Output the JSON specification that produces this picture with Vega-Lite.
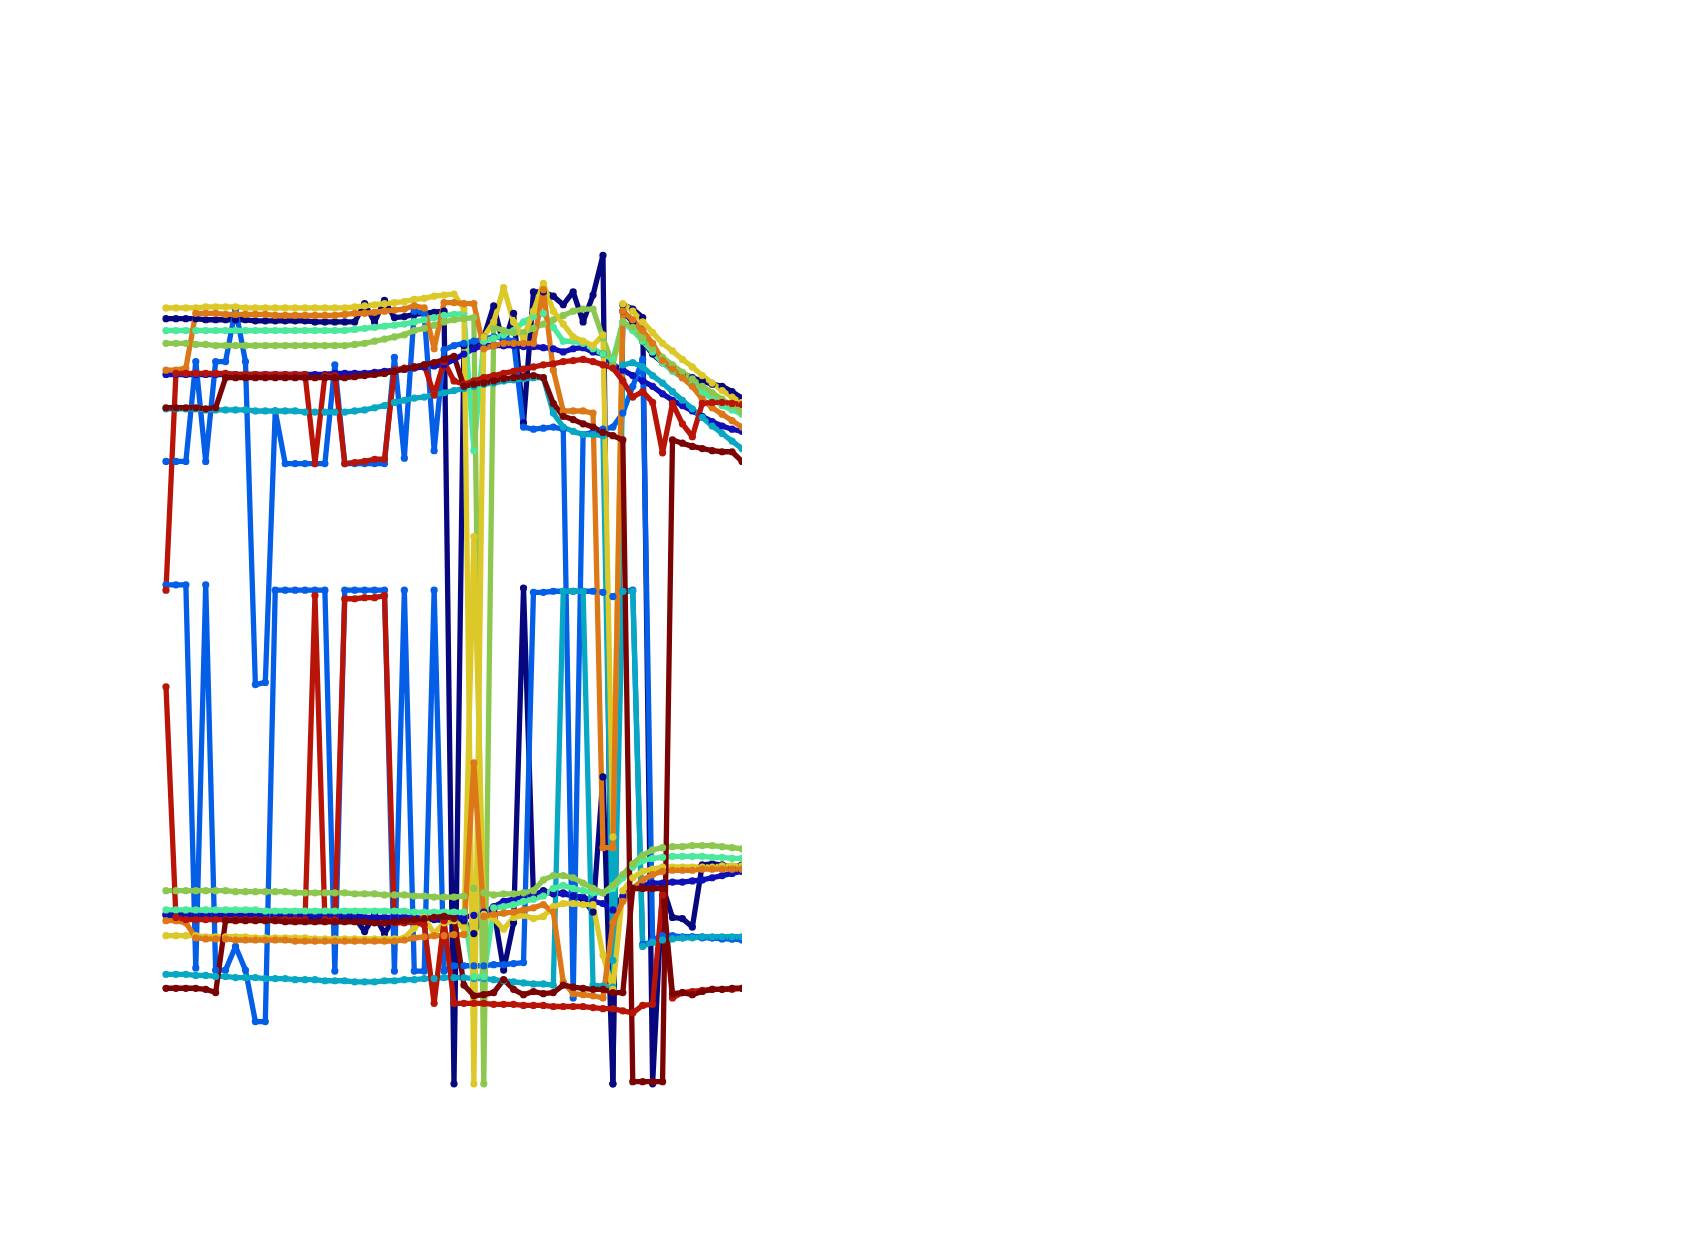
{
"$schema":"https://vega.github.io/schema/vega-lite/v6.json",
"width":576,"height":1234,"autosize":"none",
"padding":{"left":166,"top":0,"right":0,"bottom":0},
"background":"white",
"config":{"view":{"stroke":null}},
"data":{"values":[
{"s":"a1","x":0,"y":297},{"s":"a1","x":1,"y":297},{"s":"a1","x":2,"y":297},{"s":"a1","x":3,"y":297},{"s":"a1","x":4,"y":298},{"s":"a1","x":5,"y":298},{"s":"a1","x":6,"y":298},{"s":"a1","x":7,"y":298},{"s":"a1","x":8,"y":298},{"s":"a1","x":9,"y":299},
{"s":"a1","x":10,"y":299},{"s":"a1","x":11,"y":299},{"s":"a1","x":12,"y":299},{"s":"a1","x":13,"y":299},{"s":"a1","x":14,"y":299},{"s":"a1","x":15,"y":300},{"s":"a1","x":16,"y":300},{"s":"a1","x":17,"y":300},{"s":"a1","x":18,"y":300},{"s":"a1","x":19,"y":300},
{"s":"a1","x":20,"y":283},{"s":"a1","x":21,"y":300},{"s":"a1","x":22,"y":280},{"s":"a1","x":23,"y":296},{"s":"a1","x":24,"y":295},{"s":"a1","x":25,"y":293},{"s":"a1","x":26,"y":292},{"s":"a1","x":27,"y":291},{"s":"a1","x":28,"y":290},{"s":"a1","x":29,"y":1010},
{"s":"a1","x":30,"y":322},{"s":"a1","x":31,"y":322},{"s":"a1","x":32,"y":314},{"s":"a1","x":33,"y":285},{"s":"a1","x":34,"y":322},{"s":"a1","x":35,"y":292},{"s":"a1","x":36,"y":394},{"s":"a1","x":37,"y":272},{"s":"a1","x":38,"y":272},{"s":"a1","x":39,"y":276},
{"s":"a1","x":40,"y":284},{"s":"a1","x":41,"y":272},{"s":"a1","x":42,"y":300},{"s":"a1","x":43,"y":275},{"s":"a1","x":44,"y":238},{"s":"a1","x":45,"y":1010},{"s":"a1","x":46,"y":284},{"s":"a1","x":47,"y":288},{"s":"a1","x":48,"y":296},{"s":"a1","x":49,"y":1010},
{"s":"a1","x":50,"y":826},{"s":"a1","x":51,"y":855},{"s":"a1","x":52,"y":856},{"s":"a1","x":53,"y":864},{"s":"a1","x":54,"y":806},{"s":"a1","x":55,"y":805},{"s":"a1","x":56,"y":806},{"s":"a1","x":57,"y":808},{"s":"a1","x":58,"y":806},
{"s":"a2","x":0,"y":852},{"s":"a2","x":1,"y":852},{"s":"a2","x":2,"y":852},{"s":"a2","x":3,"y":853},{"s":"a2","x":4,"y":853},{"s":"a2","x":5,"y":853},{"s":"a2","x":6,"y":853},{"s":"a2","x":7,"y":853},{"s":"a2","x":8,"y":853},{"s":"a2","x":9,"y":853},
{"s":"a2","x":10,"y":854},{"s":"a2","x":11,"y":854},{"s":"a2","x":12,"y":854},{"s":"a2","x":13,"y":854},{"s":"a2","x":14,"y":855},{"s":"a2","x":15,"y":855},{"s":"a2","x":16,"y":855},{"s":"a2","x":17,"y":855},{"s":"a2","x":18,"y":855},{"s":"a2","x":19,"y":855},
{"s":"a2","x":20,"y":868},{"s":"a2","x":21,"y":853},{"s":"a2","x":22,"y":870},{"s":"a2","x":23,"y":855},{"s":"a2","x":24,"y":855},{"s":"a2","x":25,"y":856},{"s":"a2","x":26,"y":856},{"s":"a2","x":27,"y":857},{"s":"a2","x":28,"y":858},{"s":"a2","x":29,"y":858},
{"s":"a2","x":30,"y":858},{"s":"a2","x":31,"y":870},{"s":"a2","x":32,"y":850},{"s":"a2","x":33,"y":848},{"s":"a2","x":34,"y":904},{"s":"a2","x":35,"y":860},{"s":"a2","x":36,"y":548},{"s":"a2","x":37,"y":835},{"s":"a2","x":38,"y":830},{"s":"a2","x":39,"y":833},
{"s":"a2","x":40,"y":832},{"s":"a2","x":41,"y":835},{"s":"a2","x":42,"y":838},{"s":"a2","x":43,"y":850},{"s":"a2","x":44,"y":724},{"s":"a2","x":45,"y":1010},{"s":"a2","x":46,"y":290},{"s":"a2","x":47,"y":300},{"s":"a2","x":48,"y":318},{"s":"a2","x":49,"y":330},
{"s":"a2","x":50,"y":338},{"s":"a2","x":51,"y":343},{"s":"a2","x":52,"y":348},{"s":"a2","x":53,"y":352},{"s":"a2","x":54,"y":355},{"s":"a2","x":55,"y":358},{"s":"a2","x":56,"y":360},{"s":"a2","x":57,"y":365},{"s":"a2","x":58,"y":371},
{"s":"b1","x":0,"y":349},{"s":"b1","x":1,"y":349},{"s":"b1","x":2,"y":349},{"s":"b1","x":3,"y":349},{"s":"b1","x":4,"y":349},{"s":"b1","x":5,"y":349},{"s":"b1","x":6,"y":349},{"s":"b1","x":7,"y":349},{"s":"b1","x":8,"y":349},{"s":"b1","x":9,"y":349},
{"s":"b1","x":10,"y":349},{"s":"b1","x":11,"y":349},{"s":"b1","x":12,"y":349},{"s":"b1","x":13,"y":349},{"s":"b1","x":14,"y":349},{"s":"b1","x":15,"y":349},{"s":"b1","x":16,"y":349},{"s":"b1","x":17,"y":348},{"s":"b1","x":18,"y":348},{"s":"b1","x":19,"y":348},
{"s":"b1","x":20,"y":348},{"s":"b1","x":21,"y":347},{"s":"b1","x":22,"y":346},{"s":"b1","x":23,"y":345},{"s":"b1","x":24,"y":344},{"s":"b1","x":25,"y":343},{"s":"b1","x":26,"y":342},{"s":"b1","x":27,"y":341},{"s":"b1","x":28,"y":340},{"s":"b1","x":29,"y":335},
{"s":"b1","x":30,"y":330},{"s":"b1","x":31,"y":325},{"s":"b1","x":32,"y":322},{"s":"b1","x":33,"y":322},{"s":"b1","x":34,"y":322},{"s":"b1","x":35,"y":322},{"s":"b1","x":36,"y":323},{"s":"b1","x":37,"y":323},{"s":"b1","x":38,"y":324},{"s":"b1","x":39,"y":325},
{"s":"b1","x":40,"y":328},{"s":"b1","x":41,"y":325},{"s":"b1","x":42,"y":324},{"s":"b1","x":43,"y":328},{"s":"b1","x":44,"y":330},{"s":"b1","x":45,"y":340},{"s":"b1","x":46,"y":345},{"s":"b1","x":47,"y":350},{"s":"b1","x":48,"y":355},{"s":"b1","x":49,"y":360},
{"s":"b1","x":50,"y":367},{"s":"b1","x":51,"y":373},{"s":"b1","x":52,"y":378},{"s":"b1","x":53,"y":383},{"s":"b1","x":54,"y":388},{"s":"b1","x":55,"y":393},{"s":"b1","x":56,"y":397},{"s":"b1","x":57,"y":400},{"s":"b1","x":58,"y":402},
{"s":"b2","x":0,"y":853},{"s":"b2","x":1,"y":853},{"s":"b2","x":2,"y":853},{"s":"b2","x":3,"y":853},{"s":"b2","x":4,"y":853},{"s":"b2","x":5,"y":853},{"s":"b2","x":6,"y":853},{"s":"b2","x":7,"y":853},{"s":"b2","x":8,"y":853},{"s":"b2","x":9,"y":853},
{"s":"b2","x":10,"y":853},{"s":"b2","x":11,"y":853},{"s":"b2","x":12,"y":853},{"s":"b2","x":13,"y":853},{"s":"b2","x":14,"y":853},{"s":"b2","x":15,"y":853},{"s":"b2","x":16,"y":853},{"s":"b2","x":17,"y":853},{"s":"b2","x":18,"y":853},{"s":"b2","x":19,"y":853},
{"s":"b2","x":20,"y":855},{"s":"b2","x":21,"y":855},{"s":"b2","x":22,"y":855},{"s":"b2","x":23,"y":855},{"s":"b2","x":24,"y":855},{"s":"b2","x":25,"y":855},{"s":"b2","x":26,"y":856},{"s":"b2","x":27,"y":856},{"s":"b2","x":28,"y":856},{"s":"b2","x":29,"y":856},
{"s":"b2","x":30,"y":855},{"s":"b2","x":31,"y":853},{"s":"b2","x":32,"y":851},{"s":"b2","x":33,"y":845},{"s":"b2","x":34,"y":840},{"s":"b2","x":35,"y":838},{"s":"b2","x":36,"y":835},{"s":"b2","x":37,"y":833},{"s":"b2","x":38,"y":832},{"s":"b2","x":39,"y":832},
{"s":"b2","x":40,"y":833},{"s":"b2","x":41,"y":835},{"s":"b2","x":42,"y":836},{"s":"b2","x":43,"y":840},{"s":"b2","x":44,"y":842},{"s":"b2","x":45,"y":848},{"s":"b2","x":46,"y":835},{"s":"b2","x":47,"y":828},{"s":"b2","x":48,"y":825},{"s":"b2","x":49,"y":823},
{"s":"b2","x":50,"y":823},{"s":"b2","x":51,"y":822},{"s":"b2","x":52,"y":822},{"s":"b2","x":53,"y":821},{"s":"b2","x":54,"y":820},{"s":"b2","x":55,"y":818},{"s":"b2","x":56,"y":816},{"s":"b2","x":57,"y":814},{"s":"b2","x":58,"y":812},
{"s":"c1","x":0,"y":430},{"s":"c1","x":1,"y":430},{"s":"c1","x":2,"y":430},{"s":"c1","x":3,"y":337},{"s":"c1","x":4,"y":430},{"s":"c1","x":5,"y":337},{"s":"c1","x":6,"y":337},{"s":"c1","x":7,"y":288},{"s":"c1","x":8,"y":337},{"s":"c1","x":9,"y":638},
{"s":"c1","x":10,"y":636},{"s":"c1","x":11,"y":383},{"s":"c1","x":12,"y":432},{"s":"c1","x":13,"y":432},{"s":"c1","x":14,"y":432},{"s":"c1","x":15,"y":432},{"s":"c1","x":16,"y":432},{"s":"c1","x":17,"y":340},{"s":"c1","x":18,"y":432},{"s":"c1","x":19,"y":432},
{"s":"c1","x":20,"y":432},{"s":"c1","x":21,"y":432},{"s":"c1","x":22,"y":432},{"s":"c1","x":23,"y":333},{"s":"c1","x":24,"y":427},{"s":"c1","x":25,"y":290},{"s":"c1","x":26,"y":292},{"s":"c1","x":27,"y":420},{"s":"c1","x":28,"y":326},{"s":"c1","x":29,"y":322},
{"s":"c1","x":30,"y":320},{"s":"c1","x":31,"y":318},{"s":"c1","x":32,"y":316},{"s":"c1","x":33,"y":314},{"s":"c1","x":34,"y":315},{"s":"c1","x":35,"y":318},{"s":"c1","x":36,"y":398},{"s":"c1","x":37,"y":400},{"s":"c1","x":38,"y":399},{"s":"c1","x":39,"y":398},
{"s":"c1","x":40,"y":400},{"s":"c1","x":41,"y":930},{"s":"c1","x":42,"y":405},{"s":"c1","x":43,"y":403},{"s":"c1","x":44,"y":400},{"s":"c1","x":45,"y":398},{"s":"c1","x":46,"y":385},{"s":"c1","x":47,"y":360},{"s":"c1","x":48,"y":335},{"s":"c1","x":49,"y":876},
{"s":"c1","x":50,"y":872},{"s":"c1","x":51,"y":872},{"s":"c1","x":52,"y":873},{"s":"c1","x":53,"y":873},{"s":"c1","x":54,"y":874},{"s":"c1","x":55,"y":874},{"s":"c1","x":56,"y":875},{"s":"c1","x":57,"y":875},{"s":"c1","x":58,"y":876},
{"s":"c2","x":0,"y":545},{"s":"c2","x":1,"y":545},{"s":"c2","x":2,"y":545},{"s":"c2","x":3,"y":902},{"s":"c2","x":4,"y":545},{"s":"c2","x":5,"y":904},{"s":"c2","x":6,"y":904},{"s":"c2","x":7,"y":882},{"s":"c2","x":8,"y":904},{"s":"c2","x":9,"y":952},
{"s":"c2","x":10,"y":952},{"s":"c2","x":11,"y":550},{"s":"c2","x":12,"y":550},{"s":"c2","x":13,"y":550},{"s":"c2","x":14,"y":550},{"s":"c2","x":15,"y":550},{"s":"c2","x":16,"y":550},{"s":"c2","x":17,"y":905},{"s":"c2","x":18,"y":550},{"s":"c2","x":19,"y":550},
{"s":"c2","x":20,"y":550},{"s":"c2","x":21,"y":550},{"s":"c2","x":22,"y":550},{"s":"c2","x":23,"y":905},{"s":"c2","x":24,"y":550},{"s":"c2","x":25,"y":905},{"s":"c2","x":26,"y":905},{"s":"c2","x":27,"y":550},{"s":"c2","x":28,"y":905},{"s":"c2","x":29,"y":900},
{"s":"c2","x":30,"y":900},{"s":"c2","x":31,"y":900},{"s":"c2","x":32,"y":900},{"s":"c2","x":33,"y":899},{"s":"c2","x":34,"y":899},{"s":"c2","x":35,"y":898},{"s":"c2","x":36,"y":897},{"s":"c2","x":37,"y":552},{"s":"c2","x":38,"y":552},{"s":"c2","x":39,"y":551},
{"s":"c2","x":40,"y":551},{"s":"c2","x":41,"y":551},{"s":"c2","x":42,"y":551},{"s":"c2","x":43,"y":551},{"s":"c2","x":44,"y":552},{"s":"c2","x":45,"y":556},{"s":"c2","x":46,"y":551},{"s":"c2","x":47,"y":550},{"s":"c2","x":48,"y":880},{"s":"c2","x":49,"y":878},
{"s":"c2","x":50,"y":875},{"s":"c2","x":51,"y":874},{"s":"c2","x":52,"y":874},{"s":"c2","x":53,"y":873},{"s":"c2","x":54,"y":873},{"s":"c2","x":55,"y":874},{"s":"c2","x":56,"y":874},{"s":"c2","x":57,"y":875},{"s":"c2","x":58,"y":875},
{"s":"d1","x":0,"y":381},{"s":"d1","x":1,"y":381},{"s":"d1","x":2,"y":381},{"s":"d1","x":3,"y":381},{"s":"d1","x":4,"y":382},{"s":"d1","x":5,"y":382},{"s":"d1","x":6,"y":382},{"s":"d1","x":7,"y":382},{"s":"d1","x":8,"y":382},{"s":"d1","x":9,"y":383},
{"s":"d1","x":10,"y":383},{"s":"d1","x":11,"y":383},{"s":"d1","x":12,"y":383},{"s":"d1","x":13,"y":383},{"s":"d1","x":14,"y":384},{"s":"d1","x":15,"y":384},{"s":"d1","x":16,"y":384},{"s":"d1","x":17,"y":384},{"s":"d1","x":18,"y":384},{"s":"d1","x":19,"y":383},
{"s":"d1","x":20,"y":382},{"s":"d1","x":21,"y":380},{"s":"d1","x":22,"y":378},{"s":"d1","x":23,"y":375},{"s":"d1","x":24,"y":373},{"s":"d1","x":25,"y":371},{"s":"d1","x":26,"y":370},{"s":"d1","x":27,"y":368},{"s":"d1","x":28,"y":366},{"s":"d1","x":29,"y":364},
{"s":"d1","x":30,"y":362},{"s":"d1","x":31,"y":360},{"s":"d1","x":32,"y":358},{"s":"d1","x":33,"y":357},{"s":"d1","x":34,"y":355},{"s":"d1","x":35,"y":354},{"s":"d1","x":36,"y":353},{"s":"d1","x":37,"y":352},{"s":"d1","x":38,"y":352},{"s":"d1","x":39,"y":385},
{"s":"d1","x":40,"y":398},{"s":"d1","x":41,"y":402},{"s":"d1","x":42,"y":405},{"s":"d1","x":43,"y":405},{"s":"d1","x":44,"y":406},{"s":"d1","x":45,"y":895},{"s":"d1","x":46,"y":340},{"s":"d1","x":47,"y":338},{"s":"d1","x":48,"y":342},{"s":"d1","x":49,"y":350},
{"s":"d1","x":50,"y":357},{"s":"d1","x":51,"y":365},{"s":"d1","x":52,"y":373},{"s":"d1","x":53,"y":381},{"s":"d1","x":54,"y":389},{"s":"d1","x":55,"y":397},{"s":"d1","x":56,"y":404},{"s":"d1","x":57,"y":411},{"s":"d1","x":58,"y":418},
{"s":"d2","x":0,"y":908},{"s":"d2","x":1,"y":908},{"s":"d2","x":2,"y":908},{"s":"d2","x":3,"y":909},{"s":"d2","x":4,"y":909},{"s":"d2","x":5,"y":910},{"s":"d2","x":6,"y":910},{"s":"d2","x":7,"y":911},{"s":"d2","x":8,"y":911},{"s":"d2","x":9,"y":911},
{"s":"d2","x":10,"y":912},{"s":"d2","x":11,"y":912},{"s":"d2","x":12,"y":912},{"s":"d2","x":13,"y":913},{"s":"d2","x":14,"y":913},{"s":"d2","x":15,"y":913},{"s":"d2","x":16,"y":914},{"s":"d2","x":17,"y":914},{"s":"d2","x":18,"y":914},{"s":"d2","x":19,"y":915},
{"s":"d2","x":20,"y":915},{"s":"d2","x":21,"y":915},{"s":"d2","x":22,"y":914},{"s":"d2","x":23,"y":914},{"s":"d2","x":24,"y":913},{"s":"d2","x":25,"y":913},{"s":"d2","x":26,"y":912},{"s":"d2","x":27,"y":912},{"s":"d2","x":28,"y":911},{"s":"d2","x":29,"y":911},
{"s":"d2","x":30,"y":911},{"s":"d2","x":31,"y":912},{"s":"d2","x":32,"y":912},{"s":"d2","x":33,"y":913},{"s":"d2","x":34,"y":914},{"s":"d2","x":35,"y":915},{"s":"d2","x":36,"y":916},{"s":"d2","x":37,"y":917},{"s":"d2","x":38,"y":917},{"s":"d2","x":39,"y":918},
{"s":"d2","x":40,"y":551},{"s":"d2","x":41,"y":551},{"s":"d2","x":42,"y":551},{"s":"d2","x":43,"y":918},{"s":"d2","x":44,"y":919},{"s":"d2","x":45,"y":920},{"s":"d2","x":46,"y":551},{"s":"d2","x":47,"y":551},{"s":"d2","x":48,"y":882},{"s":"d2","x":49,"y":878},
{"s":"d2","x":50,"y":876},{"s":"d2","x":51,"y":875},{"s":"d2","x":52,"y":874},{"s":"d2","x":53,"y":874},{"s":"d2","x":54,"y":873},{"s":"d2","x":55,"y":873},{"s":"d2","x":56,"y":873},{"s":"d2","x":57,"y":873},{"s":"d2","x":58,"y":873},
{"s":"e1","x":0,"y":308},{"s":"e1","x":1,"y":308},{"s":"e1","x":2,"y":308},{"s":"e1","x":3,"y":308},{"s":"e1","x":4,"y":308},{"s":"e1","x":5,"y":308},{"s":"e1","x":6,"y":308},{"s":"e1","x":7,"y":308},{"s":"e1","x":8,"y":308},{"s":"e1","x":9,"y":308},
{"s":"e1","x":10,"y":308},{"s":"e1","x":11,"y":308},{"s":"e1","x":12,"y":308},{"s":"e1","x":13,"y":308},{"s":"e1","x":14,"y":308},{"s":"e1","x":15,"y":308},{"s":"e1","x":16,"y":308},{"s":"e1","x":17,"y":308},{"s":"e1","x":18,"y":308},{"s":"e1","x":19,"y":307},
{"s":"e1","x":20,"y":306},{"s":"e1","x":21,"y":305},{"s":"e1","x":22,"y":304},{"s":"e1","x":23,"y":303},{"s":"e1","x":24,"y":302},{"s":"e1","x":25,"y":300},{"s":"e1","x":26,"y":298},{"s":"e1","x":27,"y":296},{"s":"e1","x":28,"y":294},{"s":"e1","x":29,"y":293},
{"s":"e1","x":30,"y":292},{"s":"e1","x":31,"y":420},{"s":"e1","x":32,"y":318},{"s":"e1","x":33,"y":315},{"s":"e1","x":34,"y":312},{"s":"e1","x":35,"y":308},{"s":"e1","x":36,"y":300},{"s":"e1","x":37,"y":295},{"s":"e1","x":38,"y":292},{"s":"e1","x":39,"y":305},
{"s":"e1","x":40,"y":318},{"s":"e1","x":41,"y":318},{"s":"e1","x":42,"y":320},{"s":"e1","x":43,"y":325},{"s":"e1","x":44,"y":330},{"s":"e1","x":45,"y":335},{"s":"e1","x":46,"y":300},{"s":"e1","x":47,"y":308},{"s":"e1","x":48,"y":318},{"s":"e1","x":49,"y":328},
{"s":"e1","x":50,"y":338},{"s":"e1","x":51,"y":346},{"s":"e1","x":52,"y":352},{"s":"e1","x":53,"y":358},{"s":"e1","x":54,"y":365},{"s":"e1","x":55,"y":372},{"s":"e1","x":56,"y":378},{"s":"e1","x":57,"y":382},{"s":"e1","x":58,"y":386},
{"s":"e2","x":0,"y":848},{"s":"e2","x":1,"y":848},{"s":"e2","x":2,"y":848},{"s":"e2","x":3,"y":848},{"s":"e2","x":4,"y":848},{"s":"e2","x":5,"y":848},{"s":"e2","x":6,"y":848},{"s":"e2","x":7,"y":848},{"s":"e2","x":8,"y":848},{"s":"e2","x":9,"y":848},
{"s":"e2","x":10,"y":849},{"s":"e2","x":11,"y":849},{"s":"e2","x":12,"y":849},{"s":"e2","x":13,"y":849},{"s":"e2","x":14,"y":849},{"s":"e2","x":15,"y":849},{"s":"e2","x":16,"y":849},{"s":"e2","x":17,"y":849},{"s":"e2","x":18,"y":849},{"s":"e2","x":19,"y":849},
{"s":"e2","x":20,"y":849},{"s":"e2","x":21,"y":849},{"s":"e2","x":22,"y":849},{"s":"e2","x":23,"y":849},{"s":"e2","x":24,"y":849},{"s":"e2","x":25,"y":850},{"s":"e2","x":26,"y":850},{"s":"e2","x":27,"y":850},{"s":"e2","x":28,"y":850},{"s":"e2","x":29,"y":850},
{"s":"e2","x":30,"y":850},{"s":"e2","x":31,"y":910},{"s":"e2","x":32,"y":910},{"s":"e2","x":33,"y":846},{"s":"e2","x":34,"y":845},{"s":"e2","x":35,"y":843},{"s":"e2","x":36,"y":840},{"s":"e2","x":37,"y":838},{"s":"e2","x":38,"y":835},{"s":"e2","x":39,"y":828},
{"s":"e2","x":40,"y":825},{"s":"e2","x":41,"y":828},{"s":"e2","x":42,"y":830},{"s":"e2","x":43,"y":832},{"s":"e2","x":44,"y":832},{"s":"e2","x":45,"y":828},{"s":"e2","x":46,"y":818},{"s":"e2","x":47,"y":808},{"s":"e2","x":48,"y":802},{"s":"e2","x":49,"y":800},
{"s":"e2","x":50,"y":799},{"s":"e2","x":51,"y":798},{"s":"e2","x":52,"y":798},{"s":"e2","x":53,"y":798},{"s":"e2","x":54,"y":798},{"s":"e2","x":55,"y":799},{"s":"e2","x":56,"y":799},{"s":"e2","x":57,"y":800},{"s":"e2","x":58,"y":800},
{"s":"f1","x":0,"y":320},{"s":"f1","x":1,"y":320},{"s":"f1","x":2,"y":320},{"s":"f1","x":3,"y":321},{"s":"f1","x":4,"y":321},{"s":"f1","x":5,"y":322},{"s":"f1","x":6,"y":322},{"s":"f1","x":7,"y":322},{"s":"f1","x":8,"y":322},{"s":"f1","x":9,"y":322},
{"s":"f1","x":10,"y":322},{"s":"f1","x":11,"y":322},{"s":"f1","x":12,"y":322},{"s":"f1","x":13,"y":322},{"s":"f1","x":14,"y":322},{"s":"f1","x":15,"y":322},{"s":"f1","x":16,"y":322},{"s":"f1","x":17,"y":322},{"s":"f1","x":18,"y":322},{"s":"f1","x":19,"y":321},
{"s":"f1","x":20,"y":320},{"s":"f1","x":21,"y":318},{"s":"f1","x":22,"y":316},{"s":"f1","x":23,"y":314},{"s":"f1","x":24,"y":312},{"s":"f1","x":25,"y":308},{"s":"f1","x":26,"y":306},{"s":"f1","x":27,"y":303},{"s":"f1","x":28,"y":300},{"s":"f1","x":29,"y":298},
{"s":"f1","x":30,"y":297},{"s":"f1","x":31,"y":296},{"s":"f1","x":32,"y":1010},{"s":"f1","x":33,"y":305},{"s":"f1","x":34,"y":308},{"s":"f1","x":35,"y":310},{"s":"f1","x":36,"y":310},{"s":"f1","x":37,"y":306},{"s":"f1","x":38,"y":302},{"s":"f1","x":39,"y":298},
{"s":"f1","x":40,"y":294},{"s":"f1","x":41,"y":290},{"s":"f1","x":42,"y":288},{"s":"f1","x":43,"y":288},{"s":"f1","x":44,"y":315},{"s":"f1","x":45,"y":340},{"s":"f1","x":46,"y":300},{"s":"f1","x":47,"y":305},{"s":"f1","x":48,"y":315},{"s":"f1","x":49,"y":325},
{"s":"f1","x":50,"y":333},{"s":"f1","x":51,"y":340},{"s":"f1","x":52,"y":347},{"s":"f1","x":53,"y":353},{"s":"f1","x":54,"y":360},{"s":"f1","x":55,"y":366},{"s":"f1","x":56,"y":372},{"s":"f1","x":57,"y":378},{"s":"f1","x":58,"y":384},
{"s":"f2","x":0,"y":830},{"s":"f2","x":1,"y":830},{"s":"f2","x":2,"y":830},{"s":"f2","x":3,"y":830},{"s":"f2","x":4,"y":830},{"s":"f2","x":5,"y":830},{"s":"f2","x":6,"y":830},{"s":"f2","x":7,"y":831},{"s":"f2","x":8,"y":831},{"s":"f2","x":9,"y":831},
{"s":"f2","x":10,"y":831},{"s":"f2","x":11,"y":831},{"s":"f2","x":12,"y":831},{"s":"f2","x":13,"y":832},{"s":"f2","x":14,"y":832},{"s":"f2","x":15,"y":832},{"s":"f2","x":16,"y":832},{"s":"f2","x":17,"y":832},{"s":"f2","x":18,"y":832},{"s":"f2","x":19,"y":833},
{"s":"f2","x":20,"y":833},{"s":"f2","x":21,"y":833},{"s":"f2","x":22,"y":834},{"s":"f2","x":23,"y":834},{"s":"f2","x":24,"y":834},{"s":"f2","x":25,"y":835},{"s":"f2","x":26,"y":835},{"s":"f2","x":27,"y":836},{"s":"f2","x":28,"y":836},{"s":"f2","x":29,"y":836},
{"s":"f2","x":30,"y":835},{"s":"f2","x":31,"y":828},{"s":"f2","x":32,"y":832},{"s":"f2","x":33,"y":834},{"s":"f2","x":34,"y":833},{"s":"f2","x":35,"y":833},{"s":"f2","x":36,"y":832},{"s":"f2","x":37,"y":830},{"s":"f2","x":38,"y":820},{"s":"f2","x":39,"y":816},
{"s":"f2","x":40,"y":816},{"s":"f2","x":41,"y":818},{"s":"f2","x":42,"y":823},{"s":"f2","x":43,"y":828},{"s":"f2","x":44,"y":832},{"s":"f2","x":45,"y":825},{"s":"f2","x":46,"y":815},{"s":"f2","x":47,"y":805},{"s":"f2","x":48,"y":797},{"s":"f2","x":49,"y":792},
{"s":"f2","x":50,"y":790},{"s":"f2","x":51,"y":789},{"s":"f2","x":52,"y":789},{"s":"f2","x":53,"y":788},{"s":"f2","x":54,"y":788},{"s":"f2","x":55,"y":788},{"s":"f2","x":56,"y":789},{"s":"f2","x":57,"y":790},{"s":"f2","x":58,"y":791},
{"s":"g1","x":0,"y":287},{"s":"g1","x":1,"y":287},{"s":"g1","x":2,"y":287},{"s":"g1","x":3,"y":287},{"s":"g1","x":4,"y":286},{"s":"g1","x":5,"y":286},{"s":"g1","x":6,"y":286},{"s":"g1","x":7,"y":286},{"s":"g1","x":8,"y":287},{"s":"g1","x":9,"y":287},
{"s":"g1","x":10,"y":287},{"s":"g1","x":11,"y":287},{"s":"g1","x":12,"y":287},{"s":"g1","x":13,"y":287},{"s":"g1","x":14,"y":287},{"s":"g1","x":15,"y":287},{"s":"g1","x":16,"y":287},{"s":"g1","x":17,"y":287},{"s":"g1","x":18,"y":287},{"s":"g1","x":19,"y":286},
{"s":"g1","x":20,"y":285},{"s":"g1","x":21,"y":284},{"s":"g1","x":22,"y":283},{"s":"g1","x":23,"y":282},{"s":"g1","x":24,"y":281},{"s":"g1","x":25,"y":279},{"s":"g1","x":26,"y":278},{"s":"g1","x":27,"y":276},{"s":"g1","x":28,"y":275},{"s":"g1","x":29,"y":274},
{"s":"g1","x":30,"y":288},{"s":"g1","x":31,"y":1010},{"s":"g1","x":32,"y":314},{"s":"g1","x":33,"y":300},{"s":"g1","x":34,"y":268},{"s":"g1","x":35,"y":300},{"s":"g1","x":36,"y":315},{"s":"g1","x":37,"y":290},{"s":"g1","x":38,"y":264},{"s":"g1","x":39,"y":290},
{"s":"g1","x":40,"y":302},{"s":"g1","x":41,"y":314},{"s":"g1","x":42,"y":318},{"s":"g1","x":43,"y":322},{"s":"g1","x":44,"y":312},{"s":"g1","x":45,"y":780},{"s":"g1","x":46,"y":283},{"s":"g1","x":47,"y":290},{"s":"g1","x":48,"y":300},{"s":"g1","x":49,"y":310},
{"s":"g1","x":50,"y":320},{"s":"g1","x":51,"y":327},{"s":"g1","x":52,"y":335},{"s":"g1","x":53,"y":342},{"s":"g1","x":54,"y":350},{"s":"g1","x":55,"y":357},{"s":"g1","x":56,"y":364},{"s":"g1","x":57,"y":370},{"s":"g1","x":58,"y":375},
{"s":"g2","x":0,"y":872},{"s":"g2","x":1,"y":872},{"s":"g2","x":2,"y":872},{"s":"g2","x":3,"y":872},{"s":"g2","x":4,"y":873},{"s":"g2","x":5,"y":873},{"s":"g2","x":6,"y":873},{"s":"g2","x":7,"y":873},{"s":"g2","x":8,"y":873},{"s":"g2","x":9,"y":874},
{"s":"g2","x":10,"y":874},{"s":"g2","x":11,"y":874},{"s":"g2","x":12,"y":874},{"s":"g2","x":13,"y":874},{"s":"g2","x":14,"y":874},{"s":"g2","x":15,"y":875},{"s":"g2","x":16,"y":875},{"s":"g2","x":17,"y":875},{"s":"g2","x":18,"y":875},{"s":"g2","x":19,"y":875},
{"s":"g2","x":20,"y":875},{"s":"g2","x":21,"y":875},{"s":"g2","x":22,"y":875},{"s":"g2","x":23,"y":875},{"s":"g2","x":24,"y":874},{"s":"g2","x":25,"y":865},{"s":"g2","x":26,"y":855},{"s":"g2","x":27,"y":870},{"s":"g2","x":28,"y":860},{"s":"g2","x":29,"y":858},
{"s":"g2","x":30,"y":865},{"s":"g2","x":31,"y":500},{"s":"g2","x":32,"y":852},{"s":"g2","x":33,"y":856},{"s":"g2","x":34,"y":866},{"s":"g2","x":35,"y":855},{"s":"g2","x":36,"y":853},{"s":"g2","x":37,"y":856},{"s":"g2","x":38,"y":854},{"s":"g2","x":39,"y":845},
{"s":"g2","x":40,"y":842},{"s":"g2","x":41,"y":842},{"s":"g2","x":42,"y":843},{"s":"g2","x":43,"y":843},{"s":"g2","x":44,"y":890},{"s":"g2","x":45,"y":922},{"s":"g2","x":46,"y":830},{"s":"g2","x":47,"y":818},{"s":"g2","x":48,"y":812},{"s":"g2","x":49,"y":810},
{"s":"g2","x":50,"y":808},{"s":"g2","x":51,"y":808},{"s":"g2","x":52,"y":808},{"s":"g2","x":53,"y":808},{"s":"g2","x":54,"y":808},{"s":"g2","x":55,"y":808},{"s":"g2","x":56,"y":807},{"s":"g2","x":57,"y":807},{"s":"g2","x":58,"y":807},
{"s":"h1","x":0,"y":345},{"s":"h1","x":1,"y":345},{"s":"h1","x":2,"y":343},{"s":"h1","x":3,"y":292},{"s":"h1","x":4,"y":292},{"s":"h1","x":5,"y":292},{"s":"h1","x":6,"y":293},{"s":"h1","x":7,"y":293},{"s":"h1","x":8,"y":293},{"s":"h1","x":9,"y":293},
{"s":"h1","x":10,"y":293},{"s":"h1","x":11,"y":294},{"s":"h1","x":12,"y":294},{"s":"h1","x":13,"y":294},{"s":"h1","x":14,"y":294},{"s":"h1","x":15,"y":294},{"s":"h1","x":16,"y":294},{"s":"h1","x":17,"y":294},{"s":"h1","x":18,"y":293},{"s":"h1","x":19,"y":292},
{"s":"h1","x":20,"y":292},{"s":"h1","x":21,"y":291},{"s":"h1","x":22,"y":290},{"s":"h1","x":23,"y":289},{"s":"h1","x":24,"y":288},{"s":"h1","x":25,"y":285},{"s":"h1","x":26,"y":287},{"s":"h1","x":27,"y":325},{"s":"h1","x":28,"y":282},{"s":"h1","x":29,"y":282},
{"s":"h1","x":30,"y":283},{"s":"h1","x":31,"y":283},{"s":"h1","x":32,"y":325},{"s":"h1","x":33,"y":322},{"s":"h1","x":34,"y":320},{"s":"h1","x":35,"y":320},{"s":"h1","x":36,"y":320},{"s":"h1","x":37,"y":320},{"s":"h1","x":38,"y":270},{"s":"h1","x":39,"y":345},
{"s":"h1","x":40,"y":383},{"s":"h1","x":41,"y":383},{"s":"h1","x":42,"y":383},{"s":"h1","x":43,"y":385},{"s":"h1","x":44,"y":790},{"s":"h1","x":45,"y":790},{"s":"h1","x":46,"y":290},{"s":"h1","x":47,"y":298},{"s":"h1","x":48,"y":308},{"s":"h1","x":49,"y":320},
{"s":"h1","x":50,"y":336},{"s":"h1","x":51,"y":344},{"s":"h1","x":52,"y":352},{"s":"h1","x":53,"y":360},{"s":"h1","x":54,"y":372},{"s":"h1","x":55,"y":380},{"s":"h1","x":56,"y":386},{"s":"h1","x":57,"y":392},{"s":"h1","x":58,"y":398},
{"s":"h2","x":0,"y":858},{"s":"h2","x":1,"y":858},{"s":"h2","x":2,"y":860},{"s":"h2","x":3,"y":874},{"s":"h2","x":4,"y":875},{"s":"h2","x":5,"y":875},{"s":"h2","x":6,"y":875},{"s":"h2","x":7,"y":876},{"s":"h2","x":8,"y":876},{"s":"h2","x":9,"y":876},
{"s":"h2","x":10,"y":876},{"s":"h2","x":11,"y":876},{"s":"h2","x":12,"y":876},{"s":"h2","x":13,"y":877},{"s":"h2","x":14,"y":877},{"s":"h2","x":15,"y":877},{"s":"h2","x":16,"y":877},{"s":"h2","x":17,"y":877},{"s":"h2","x":18,"y":877},{"s":"h2","x":19,"y":877},
{"s":"h2","x":20,"y":877},{"s":"h2","x":21,"y":877},{"s":"h2","x":22,"y":877},{"s":"h2","x":23,"y":877},{"s":"h2","x":24,"y":876},{"s":"h2","x":25,"y":874},{"s":"h2","x":26,"y":873},{"s":"h2","x":27,"y":872},{"s":"h2","x":28,"y":872},{"s":"h2","x":29,"y":871},
{"s":"h2","x":30,"y":871},{"s":"h2","x":31,"y":711},{"s":"h2","x":32,"y":854},{"s":"h2","x":33,"y":852},{"s":"h2","x":34,"y":851},{"s":"h2","x":35,"y":850},{"s":"h2","x":36,"y":848},{"s":"h2","x":37,"y":846},{"s":"h2","x":38,"y":843},{"s":"h2","x":39,"y":850},
{"s":"h2","x":40,"y":915},{"s":"h2","x":41,"y":926},{"s":"h2","x":42,"y":927},{"s":"h2","x":43,"y":928},{"s":"h2","x":44,"y":930},{"s":"h2","x":45,"y":860},{"s":"h2","x":46,"y":840},{"s":"h2","x":47,"y":828},{"s":"h2","x":48,"y":820},{"s":"h2","x":49,"y":815},
{"s":"h2","x":50,"y":812},{"s":"h2","x":51,"y":811},{"s":"h2","x":52,"y":811},{"s":"h2","x":53,"y":811},{"s":"h2","x":54,"y":810},{"s":"h2","x":55,"y":810},{"s":"h2","x":56,"y":810},{"s":"h2","x":57,"y":810},{"s":"h2","x":58,"y":810},
{"s":"i1","x":0,"y":550},{"s":"i1","x":1,"y":348},{"s":"i1","x":2,"y":348},{"s":"i1","x":3,"y":348},{"s":"i1","x":4,"y":348},{"s":"i1","x":5,"y":348},{"s":"i1","x":6,"y":348},{"s":"i1","x":7,"y":349},{"s":"i1","x":8,"y":349},{"s":"i1","x":9,"y":349},
{"s":"i1","x":10,"y":349},{"s":"i1","x":11,"y":349},{"s":"i1","x":12,"y":349},{"s":"i1","x":13,"y":349},{"s":"i1","x":14,"y":349},{"s":"i1","x":15,"y":432},{"s":"i1","x":16,"y":350},{"s":"i1","x":17,"y":350},{"s":"i1","x":18,"y":432},{"s":"i1","x":19,"y":431},
{"s":"i1","x":20,"y":430},{"s":"i1","x":21,"y":428},{"s":"i1","x":22,"y":428},{"s":"i1","x":23,"y":345},{"s":"i1","x":24,"y":343},{"s":"i1","x":25,"y":342},{"s":"i1","x":26,"y":340},{"s":"i1","x":27,"y":368},{"s":"i1","x":28,"y":337},{"s":"i1","x":29,"y":355},
{"s":"i1","x":30,"y":358},{"s":"i1","x":31,"y":355},{"s":"i1","x":32,"y":352},{"s":"i1","x":33,"y":350},{"s":"i1","x":34,"y":348},{"s":"i1","x":35,"y":346},{"s":"i1","x":36,"y":344},{"s":"i1","x":37,"y":342},{"s":"i1","x":38,"y":340},{"s":"i1","x":39,"y":339},
{"s":"i1","x":40,"y":337},{"s":"i1","x":41,"y":336},{"s":"i1","x":42,"y":335},{"s":"i1","x":43,"y":337},{"s":"i1","x":44,"y":340},{"s":"i1","x":45,"y":343},{"s":"i1","x":46,"y":355},{"s":"i1","x":47,"y":370},{"s":"i1","x":48,"y":365},{"s":"i1","x":49,"y":375},
{"s":"i1","x":50,"y":422},{"s":"i1","x":51,"y":376},{"s":"i1","x":52,"y":395},{"s":"i1","x":53,"y":407},{"s":"i1","x":54,"y":376},{"s":"i1","x":55,"y":375},{"s":"i1","x":56,"y":375},{"s":"i1","x":57,"y":376},{"s":"i1","x":58,"y":377},
{"s":"i2","x":0,"y":640},{"s":"i2","x":1,"y":855},{"s":"i2","x":2,"y":857},{"s":"i2","x":3,"y":857},{"s":"i2","x":4,"y":857},{"s":"i2","x":5,"y":857},{"s":"i2","x":6,"y":857},{"s":"i2","x":7,"y":857},{"s":"i2","x":8,"y":857},{"s":"i2","x":9,"y":857},
{"s":"i2","x":10,"y":857},{"s":"i2","x":11,"y":857},{"s":"i2","x":12,"y":857},{"s":"i2","x":13,"y":857},{"s":"i2","x":14,"y":857},{"s":"i2","x":15,"y":555},{"s":"i2","x":16,"y":857},{"s":"i2","x":17,"y":857},{"s":"i2","x":18,"y":558},{"s":"i2","x":19,"y":558},
{"s":"i2","x":20,"y":557},{"s":"i2","x":21,"y":557},{"s":"i2","x":22,"y":555},{"s":"i2","x":23,"y":860},{"s":"i2","x":24,"y":860},{"s":"i2","x":25,"y":859},{"s":"i2","x":26,"y":862},{"s":"i2","x":27,"y":935},{"s":"i2","x":28,"y":858},{"s":"i2","x":29,"y":935},
{"s":"i2","x":30,"y":935},{"s":"i2","x":31,"y":935},{"s":"i2","x":32,"y":935},{"s":"i2","x":33,"y":936},{"s":"i2","x":34,"y":936},{"s":"i2","x":35,"y":936},{"s":"i2","x":36,"y":937},{"s":"i2","x":37,"y":937},{"s":"i2","x":38,"y":937},{"s":"i2","x":39,"y":938},
{"s":"i2","x":40,"y":938},{"s":"i2","x":41,"y":938},{"s":"i2","x":42,"y":938},{"s":"i2","x":43,"y":939},{"s":"i2","x":44,"y":940},{"s":"i2","x":45,"y":940},{"s":"i2","x":46,"y":942},{"s":"i2","x":47,"y":944},{"s":"i2","x":48,"y":937},{"s":"i2","x":49,"y":936},
{"s":"i2","x":50,"y":834},{"s":"i2","x":51,"y":930},{"s":"i2","x":52,"y":925},{"s":"i2","x":53,"y":924},{"s":"i2","x":54,"y":923},{"s":"i2","x":55,"y":922},{"s":"i2","x":56,"y":922},{"s":"i2","x":57,"y":922},{"s":"i2","x":58,"y":921},
{"s":"j1","x":0,"y":380},{"s":"j1","x":1,"y":380},{"s":"j1","x":2,"y":380},{"s":"j1","x":3,"y":380},{"s":"j1","x":4,"y":381},{"s":"j1","x":5,"y":380},{"s":"j1","x":6,"y":352},{"s":"j1","x":7,"y":352},{"s":"j1","x":8,"y":352},{"s":"j1","x":9,"y":352},
{"s":"j1","x":10,"y":352},{"s":"j1","x":11,"y":352},{"s":"j1","x":12,"y":352},{"s":"j1","x":13,"y":352},{"s":"j1","x":14,"y":352},{"s":"j1","x":15,"y":352},{"s":"j1","x":16,"y":352},{"s":"j1","x":17,"y":352},{"s":"j1","x":18,"y":352},{"s":"j1","x":19,"y":351},
{"s":"j1","x":20,"y":350},{"s":"j1","x":21,"y":349},{"s":"j1","x":22,"y":348},{"s":"j1","x":23,"y":346},{"s":"j1","x":24,"y":344},{"s":"j1","x":25,"y":342},{"s":"j1","x":26,"y":340},{"s":"j1","x":27,"y":338},{"s":"j1","x":28,"y":335},{"s":"j1","x":29,"y":332},
{"s":"j1","x":30,"y":360},{"s":"j1","x":31,"y":358},{"s":"j1","x":32,"y":357},{"s":"j1","x":33,"y":355},{"s":"j1","x":34,"y":353},{"s":"j1","x":35,"y":352},{"s":"j1","x":36,"y":351},{"s":"j1","x":37,"y":350},{"s":"j1","x":38,"y":352},{"s":"j1","x":39,"y":376},
{"s":"j1","x":40,"y":388},{"s":"j1","x":41,"y":391},{"s":"j1","x":42,"y":395},{"s":"j1","x":43,"y":398},{"s":"j1","x":44,"y":403},{"s":"j1","x":45,"y":406},{"s":"j1","x":46,"y":410},{"s":"j1","x":47,"y":1008},{"s":"j1","x":48,"y":1008},{"s":"j1","x":49,"y":1008},
{"s":"j1","x":50,"y":1008},{"s":"j1","x":51,"y":410},{"s":"j1","x":52,"y":413},{"s":"j1","x":53,"y":416},{"s":"j1","x":54,"y":418},{"s":"j1","x":55,"y":420},{"s":"j1","x":56,"y":421},{"s":"j1","x":57,"y":421},{"s":"j1","x":58,"y":430},
{"s":"j2","x":0,"y":921},{"s":"j2","x":1,"y":921},{"s":"j2","x":2,"y":921},{"s":"j2","x":3,"y":921},{"s":"j2","x":4,"y":922},{"s":"j2","x":5,"y":925},{"s":"j2","x":6,"y":858},{"s":"j2","x":7,"y":858},{"s":"j2","x":8,"y":858},{"s":"j2","x":9,"y":858},
{"s":"j2","x":10,"y":858},{"s":"j2","x":11,"y":858},{"s":"j2","x":12,"y":859},{"s":"j2","x":13,"y":859},{"s":"j2","x":14,"y":859},{"s":"j2","x":15,"y":859},{"s":"j2","x":16,"y":859},{"s":"j2","x":17,"y":859},{"s":"j2","x":18,"y":859},{"s":"j2","x":19,"y":859},
{"s":"j2","x":20,"y":859},{"s":"j2","x":21,"y":860},{"s":"j2","x":22,"y":860},{"s":"j2","x":23,"y":859},{"s":"j2","x":24,"y":858},{"s":"j2","x":25,"y":857},{"s":"j2","x":26,"y":856},{"s":"j2","x":27,"y":855},{"s":"j2","x":28,"y":854},{"s":"j2","x":29,"y":856},
{"s":"j2","x":30,"y":918},{"s":"j2","x":31,"y":928},{"s":"j2","x":32,"y":927},{"s":"j2","x":33,"y":925},{"s":"j2","x":34,"y":913},{"s":"j2","x":35,"y":922},{"s":"j2","x":36,"y":927},{"s":"j2","x":37,"y":924},{"s":"j2","x":38,"y":926},{"s":"j2","x":39,"y":925},
{"s":"j2","x":40,"y":918},{"s":"j2","x":41,"y":920},{"s":"j2","x":42,"y":921},{"s":"j2","x":43,"y":922},{"s":"j2","x":44,"y":922},{"s":"j2","x":45,"y":925},{"s":"j2","x":46,"y":925},{"s":"j2","x":47,"y":828},{"s":"j2","x":48,"y":828},{"s":"j2","x":49,"y":828},
{"s":"j2","x":50,"y":828},{"s":"j2","x":51,"y":926},{"s":"j2","x":52,"y":925},{"s":"j2","x":53,"y":927},{"s":"j2","x":54,"y":924},{"s":"j2","x":55,"y":922},{"s":"j2","x":56,"y":922},{"s":"j2","x":57,"y":921},{"s":"j2","x":58,"y":921}
]},
"encoding":{
"x":{"field":"x","type":"quantitative","scale":{"domain":[0,58],"nice":false,"zero":false},"axis":null},
"y":{"field":"y","type":"quantitative","scale":{"domain":[0,1150],"reverse":true,"nice":false,"zero":false},"axis":null},
"color":{"field":"s","type":"nominal","legend":null,"scale":{"domain":["a1","a2","b1","b2","c1","c2","d1","d2","e1","e2","f1","f2","g1","g2","h1","h2","i1","i2","j1","j2"],"range":["#08087e","#08087e","#1010b8","#1010b8","#045ee6","#045ee6","#08a8c4","#08a8c4","#4ce89c","#4ce89c","#8cc850","#8cc850","#dcc828","#dcc828","#dc7818","#dc7818","#b81408","#b81408","#7a0404","#7a0404"]}}
},
"layer":[
{"mark":{"type":"line","strokeWidth":5.3,"strokeJoin":"round","clip":false}},
{"mark":{"type":"circle","size":52,"opacity":1,"clip":false}}
]
}
